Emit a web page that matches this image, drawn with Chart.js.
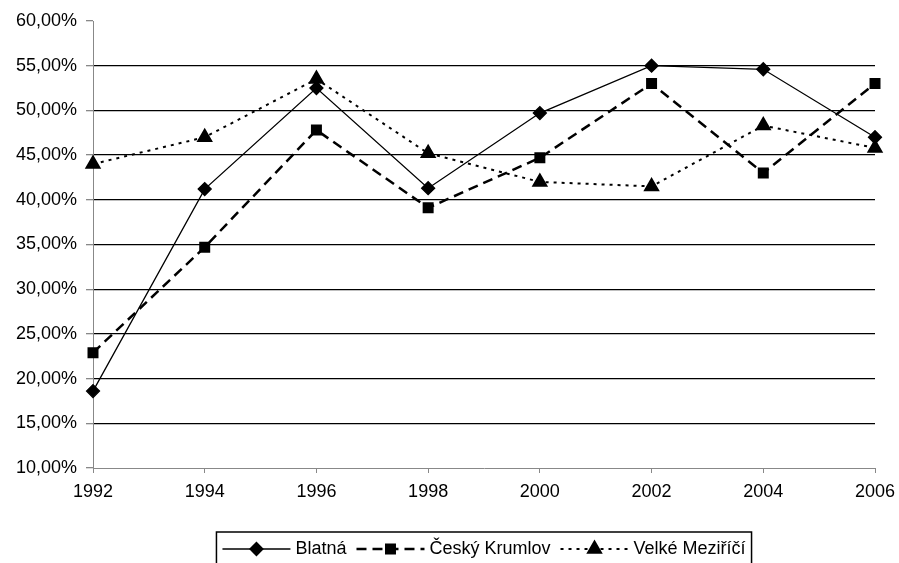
<!DOCTYPE html>
<html>
<head>
<meta charset="utf-8">
<script src="https://cdn.jsdelivr.net/npm/chart.js@4/dist/chart.umd.min.js"></script>
<style>
  html, body { margin: 0; padding: 0; background: #fff; }
  #wrap { width: 899px; height: 563px; }
</style>
</head>
<body>
<div id="wrap"><canvas id="myChart" width="899" height="563"></canvas></div>
<script>
const years = ['1992', '1994', '1996', '1998', '2000', '2002', '2004', '2006'];
const blatna = [18.6, 41.2, 52.5, 41.3, 49.7, 55.0, 54.6, 47.0];
const ceskyKrumlov = [22.9, 34.7, 47.8, 39.1, 44.7, 53.0, 43.0, 53.0];
const velkeMezirici = [44.0, 47.0, 53.5, 45.2, 42.0, 41.5, 48.3, 45.8];

const FONT = '"Liberation Sans", Arial, sans-serif';

// legend in Excel style: line sample with the marker in the middle
const excelLegend = {
    id: 'excelLegend',
    afterDraw(chart) {
        const ctx = chart.ctx;
        const area = chart.chartArea;
        const sampleW = 68;
        const y = 549;
        ctx.save();
        ctx.font = '18px ' + FONT;
        const items = chart.data.datasets.map(ds => ({ds, w: ctx.measureText(ds.label).width}));
        const total = items.reduce((s, it) => s + sampleW + 5 + it.w + 10, 0) + 2;
        let x = (area.left + area.right) / 2 - total / 2;
        // box (bottom edge is cut off by the picture)
        ctx.strokeStyle = '#000';
        ctx.lineWidth = 1.5;
        ctx.beginPath();
        ctx.moveTo(x, 575);
        ctx.lineTo(x, 532);
        ctx.lineTo(x + total, 532);
        ctx.lineTo(x + total, 575);
        ctx.stroke();
        x += 6;
        items.forEach(it => {
            const ds = it.ds;
            ctx.strokeStyle = '#000';
            ctx.lineWidth = ds.borderWidth;
            ctx.setLineDash(ds.borderDash || []);
            ctx.beginPath();
            ctx.moveTo(x, y);
            ctx.lineTo(x + sampleW, y);
            ctx.stroke();
            ctx.setLineDash([]);
            Chart.helpers.drawPoint(ctx, {
                pointStyle: ds.pointStyle,
                radius: ds.pointRadius,
                rotation: 0,
                borderWidth: 1
            }, x + sampleW / 2, y);
            ctx.fillStyle = '#000';
            ctx.fill();
            ctx.textBaseline = 'middle';
            ctx.fillText(ds.label, x + sampleW + 5, y);
            x += sampleW + 5 + it.w + 10;
        });
        ctx.restore();
    }
};

const ctx = document.getElementById('myChart').getContext('2d');

new Chart(ctx, {
    type: 'line',
    data: {
        labels: years,
        datasets: [
            {
                label: 'Blatná',
                data: blatna,
                borderColor: '#000',
                backgroundColor: '#000',
                borderWidth: 1.3,
                pointStyle: 'rectRot',
                pointRadius: 6.5,
                tension: 0
            },
            {
                label: 'Český Krumlov',
                data: ceskyKrumlov,
                borderColor: '#000',
                backgroundColor: '#000',
                borderWidth: 2.5,
                borderDash: [10, 6],
                pointStyle: 'rect',
                pointRadius: 6,
                tension: 0
            },
            {
                label: 'Velké Meziříčí',
                data: velkeMezirici,
                borderColor: '#000',
                backgroundColor: '#000',
                borderWidth: 2,
                borderDash: [3, 5],
                pointStyle: 'triangle',
                pointRadius: 7.5,
                tension: 0
            }
        ]
    },
    options: {
        responsive: false,
        animation: false,
        layout: {
            padding: {left: 0, top: 21, right: 24, bottom: 0}
        },
        plugins: {
            legend: {display: false},
            tooltip: {enabled: false}
        },
        scales: {
            x: {
                offset: false,
                grid: {
                    drawOnChartArea: false,
                    tickLength: 5,
                    tickColor: '#888',
                    color: '#888'
                },
                border: {color: '#888', width: 1},
                ticks: {
                    color: '#000',
                    font: {family: FONT, size: 18},
                    padding: 8,
                    maxRotation: 0
                },
                afterFit(scale) {
                    scale.height = 95;
                    scale.paddingLeft = 0;
                    scale.paddingRight = 0;
                }
            },
            y: {
                min: 10,
                max: 60,
                grid: {
                    color: c => (c.tick && (c.tick.value === 60 || c.tick.value === 10)) ? 'rgba(0,0,0,0)' : '#000',
                    lineWidth: 1.3,
                    tickLength: 7,
                    tickColor: '#888'
                },
                border: {color: '#888', width: 1},
                ticks: {
                    stepSize: 5,
                    color: '#000',
                    font: {family: FONT, size: 18},
                    padding: 9,
                    callback: function(value) {
                        return value.toFixed(2).replace('.', ',') + '%';
                    }
                },
                afterFit(scale) { scale.width = 93; }
            }
        }
    },
    plugins: [excelLegend]
});
</script>
</body>
</html>
